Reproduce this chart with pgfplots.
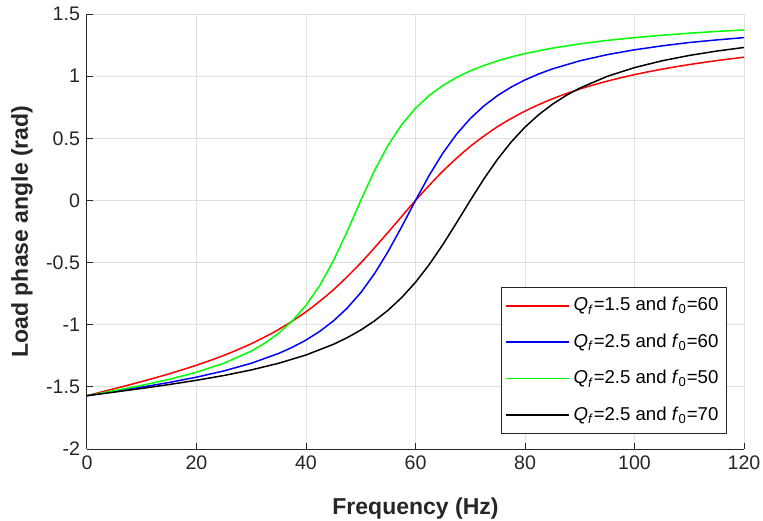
\documentclass[border=0pt]{standalone}
\usepackage{fontspec}
\setmainfont{Liberation Sans}
\usepackage{pgfplots}
\pgfplotsset{compat=1.18}
\definecolor{axgray}{RGB}{38,38,38}
\definecolor{gridgray}{RGB}{223,223,223}

\begin{document}
\begin{tikzpicture}
\path[use as bounding box] (-43.5pt,-35.5pt) rectangle (338pt,224.5pt);
\begin{axis}[
  scale only axis, width=328.5pt, height=217.5pt,
  xmin=0, xmax=120, ymin=-2, ymax=1.5,
  xtick={0,20,...,120},
  ytick={-2,-1.5,-1,-0.5,0,0.5,1,1.5},
  yticklabels={-2,-1.5,-1,-0.5,0,0.5,1,1.5},
  axis x line*=bottom, axis y line*=left,
  axis line style={axgray, line width=0.5pt, -},
  tick align=inside, major tick length=3pt,
  tick style={axgray, line width=0.5pt},
  grid=major, major grid style={gridgray, line width=0.5pt},
  /pgf/number format/assume math mode=true,
  ticklabel style={font=\fontsize{9.8}{11}\selectfont, text=axgray},
  xlabel={Frequency (Hz)},
  ylabel={Load phase angle (rad)},
  label style={font=\fontsize{11.5}{13}\selectfont\bfseries, text=axgray},
  xlabel style={at={(axis description cs:0.5,-0.138)}, anchor=center},
  ylabel style={at={(axis description cs:-0.0989,0.5)}, anchor=center},
  legend style={at={(0.974,0.3724)}, anchor=north east, draw=axgray, line width=0.5pt,
    font=\fontsize{9.3}{10}\selectfont, row sep=6pt, inner xsep=2pt, inner ysep=3pt},
  legend cell align=left,
  legend image code/.code={\draw[#1] (0pt,0pt) -- (31.5pt,0pt);},
]
\addplot[red, line width=0.75pt, smooth] coordinates {
(0,-1.5708)(5,-1.5149)(10,-1.4570)(15,-1.3949)(20,-1.3258)(25,-1.2465)(30,-1.1526)(35,-1.0381)(40,-0.8961)(45,-0.7188)(50,-0.5029)(55,-0.2557)(60,0)(65,0.2359)(70,0.4347)(75,0.5938)(80,0.7188)(85,0.8174)(90,0.8961)(95,0.9598)(100,1.0122)(105,1.0560)(110,1.0931)(115,1.1250)(120,1.1526)};
\addlegendentry{\textit{Q}\textsubscript{\textit{f}}=1.5 and \textit{f}\textsubscript{0}=60}
\addplot[blue, line width=0.75pt] coordinates {
(0,-1.5708)(5,-1.5372)(10,-1.5023)(15,-1.4645)(20,-1.4219)(25,-1.3718)(30,-1.3102)(35,-1.2309)(37.5,-1.1815)(40,-1.1233)(42.5,-1.0538)(45,-0.9697)(47.5,-0.8672)(50,-0.7420)(52.5,-0.5901)(55,-0.4108)(57.5,-0.2097)(60,0)(62.5,0.2014)(65,0.3811)(67.5,0.5332)(70,0.6586)(72.5,0.7607)(75,0.8442)(77.5,0.9128)(80,0.9697)(82.5,1.0176)(85,1.0582)(90,1.1233)(95,1.1729)(100,1.2120)(105,1.2436)(110,1.2707)(115,1.2915)(120,1.3102)};
\addlegendentry{\textit{Q}\textsubscript{\textit{f}}=2.5 and \textit{f}\textsubscript{0}=60}
\addplot[green, line width=0.75pt] coordinates {
(0,-1.5708)(5,-1.5304)(10,-1.4877)(15,-1.4397)(20,-1.3826)(25,-1.3102)(30,-1.2120)(32.5,-1.1478)(35,-1.0687)(37.5,-0.9697)(40,-0.8442)(42.5,-0.6845)(45,-0.4857)(47.5,-0.2512)(50,0)(52.5,0.2394)(55,0.4453)(57.5,0.6115)(60,0.7420)(62.5,0.8442)(65,0.9250)(67.5,0.9898)(70,1.0427)(72.5,1.0865)(75,1.1233)(77.5,1.1546)(80,1.1815)(85,1.2254)(90,1.2598)(95,1.2875)(100,1.3102)(105,1.3293)(110,1.3455)(115,1.3596)(120,1.3718)};
\addlegendentry{\textit{Q}\textsubscript{\textit{f}}=2.5 and \textit{f}\textsubscript{0}=50}
\addplot[black, line width=0.75pt] coordinates {
(0,-1.5708)(5,-1.5421)(10,-1.5125)(15,-1.4812)(20,-1.4470)(25,-1.4085)(30,-1.3638)(35,-1.3102)(40,-1.2436)(45,-1.1578)(47.5,-1.1047)(50,-1.0427)(52.5,-0.9697)(55,-0.8832)(57.5,-0.7803)(60,-0.6586)(62.5,-0.5165)(65,-0.3552)(67.5,-0.1799)(70,0)(72.5,0.1737)(75,0.3324)(77.5,0.4715)(80,0.5901)(82.5,0.6899)(85,0.7737)(87.5,0.8442)(90,0.9037)(95,0.9981)(100,1.0687)(105,1.1233)(110,1.1666)(115,1.2017)(120,1.2309)};
\addlegendentry{\textit{Q}\textsubscript{\textit{f}}=2.5 and \textit{f}\textsubscript{0}=70}
\end{axis}
\end{tikzpicture}
\end{document}
